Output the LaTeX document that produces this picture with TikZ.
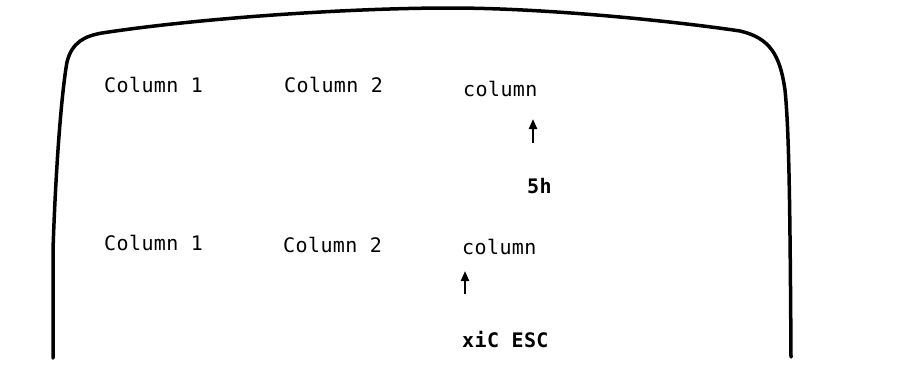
\documentclass[tikz,border=0pt]{standalone}
\usepackage{fontspec}
\setmonofont[LetterSpace=2]{DejaVu Sans Mono}
\usetikzlibrary{arrows.meta}
\tikzset{
  txt/.style={inner sep=0pt, anchor=base west, font=\ttfamily\fontsize{20}{22}\selectfont},
  btxt/.style={txt, font=\ttfamily\bfseries\fontsize{20}{22}\selectfont},
  outline/.style={line width=3.5pt, line cap=round, line join=round},
  ptr/.style={line width=2.2pt, -{Triangle[length=10pt,width=8pt]}}
}
\begin{document}
\begin{tikzpicture}[x=1pt,y=-1pt]
\useasboundingbox (0,0) rectangle (897,381);
\draw[outline] (53,358) -- (53,250)
  .. controls (56,160) and (62,90) .. (67,62)
  .. controls (72,42) and (85,36) .. (102,33)
  .. controls (200,18) and (350,8) .. (450,8)
  .. controls (550,8) and (680,22) .. (740,31)
  .. controls (770,38) and (780,55) .. (785,90)
  .. controls (789,130) and (790,200) .. (791,357);
% row 1
\node[txt] (c11) at (104,92) {Column 1};
\node[txt] (c12) at (284,92) {Column 2};
\node[txt] (col1) at (463,96) {column};
\node[btxt] (h5) at (527,193) {5h};
\coordinate (a1s) at (533,143);
\coordinate (a1e) at (533,119);
\draw[ptr] (a1s) -- (a1e);
% row 2
\node[txt] (c21) at (104,250) {Column 1};
\node[txt] (c22) at (283,252) {Column 2};
\node[txt] (col2) at (462,254) {column};
\node[btxt] (esc) at (462,347) {xiC ESC};
\coordinate (a2s) at (465,294);
\coordinate (a2e) at (465,271);
\draw[ptr] (a2s) -- (a2e);
\end{tikzpicture}
\end{document}
